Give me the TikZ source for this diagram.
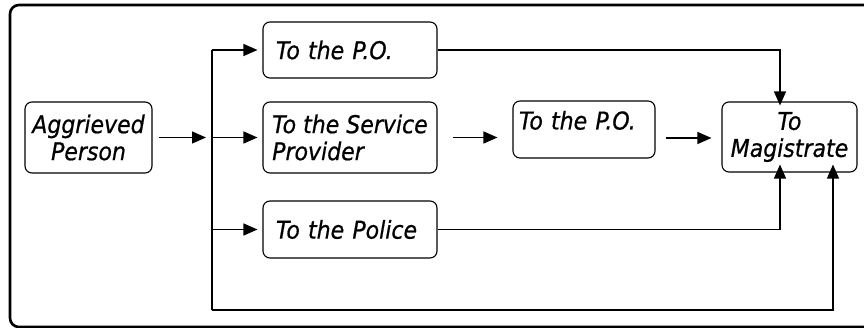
\documentclass[tikz,border=0pt]{standalone}
\usepackage{fontspec}
\setmainfont[FakeBold=0.7]{DejaVu Sans Condensed}
\usetikzlibrary{arrows.meta}
\begin{document}
\begin{tikzpicture}[x=1pt,y=-1pt,
  box/.style={draw, rounded corners=7pt, line width=1.1pt, inner sep=0pt, font=\fontsize{24.5}{27}\selectfont\itshape, align=left},
  conn/.style={line width=1.2pt, -{Triangle[length=14pt,width=12pt]}},
  wire/.style={line width=1.2pt}]
\useasboundingbox (0,0) rectangle (864,328);
\begin{scope}
\clip (0,0) rectangle (864,328);
\draw[line width=2.6pt, rounded corners=9pt] (10,5) rectangle (885,327);
\end{scope}
\node[box, minimum width=127pt, minimum height=71pt, align=center] (ag) at (88.5,137.5) {Aggrieved\\Person};
\node[box, minimum width=174pt, minimum height=56pt, text width=148pt] (po1) at (350,50) {To the P.O.};
\node[box, minimum width=174pt, minimum height=71pt] (sp) at (350,137.5) {To the Service\\Provider};
\node[box, minimum width=142pt, minimum height=57pt, text width=130pt, text height=18pt, text depth=18pt] (po2) at (584,129.5) {To the P.O.};
\node[box, minimum width=135pt, minimum height=70pt, align=center] (mg) at (789.5,137) {To\\Magistrate};
\node[box, minimum width=174pt, minimum height=57pt, text width=148pt] (pol) at (350,229.5) {To the Police};
\coordinate (j) at (212,137.5);
\coordinate (jt) at (212,50);
\coordinate (jp) at (212,229.5);
\coordinate (jb) at (212,310);
\draw[conn] (ag.east) ++(6,0) -- ([xshift=-6pt]j);
\draw[wire] (jt) -- (jb);
\draw[conn] (jt) -- ([xshift=-5pt]po1.west);
\draw[conn] (j) -- ([xshift=-5pt]sp.west);
\draw[conn] (jp) -- ([xshift=-5pt]pol.west);
\draw[conn] ([xshift=15pt]sp.east) -- ([xshift=-15pt]po2.west |- sp.east);
\draw[conn] ([xshift=10pt]po2.east |- 0,138) -- ([xshift=-10pt]mg.west |- 0,138);
\draw[conn] (po1.east) -| ([yshift=-4pt]mg.north -| 780,0);
\draw[conn] (pol.east) -| ([yshift=8pt]mg.south -| 780,0);
\draw[conn] (jb) -| ([yshift=8pt]mg.south -| 833,0);
\end{tikzpicture}
\end{document}
